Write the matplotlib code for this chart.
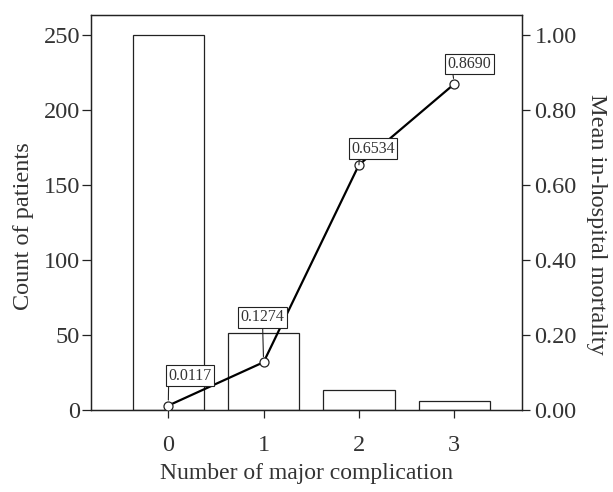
import matplotlib.pyplot as plt

plt.rcParams['font.family'] = ['Liberation Serif', 'DejaVu Serif']

# data
complications = [0, 1, 2, 3]
patient_counts = [250, 51, 13, 6]
mortality = [0.0117, 0.1274, 0.6534, 0.8690]
mortality_labels = ['0.0117', '0.1274', '0.6534', '0.8690']

ink = '#222222'
txt = '#333333'

fig = plt.figure(figsize=(6.13, 4.92), dpi=100)
ax = fig.add_axes([0.1485, 0.1667, 0.703, 0.8022])
ax2 = ax.twinx()

ax.bar(complications, patient_counts, width=0.75, facecolor='white',
       edgecolor=ink, linewidth=0.9)
ax.set_xlim(-0.81, 3.71)
ax.set_ylim(0, 263)
ax.set_yticks([0, 50, 100, 150, 200, 250])
ax.set_xticks(complications)

ax2.plot(complications, mortality, color='black', lw=1.6, marker='o',
         markersize=6.5, markerfacecolor='white', markeredgecolor=ink,
         markeredgewidth=0.9, zorder=3)
ax2.set_ylim(0, 1.052)
ax2.set_yticks([0, 0.2, 0.4, 0.6, 0.8, 1.0])
ax2.set_yticklabels(['0.00', '0.20', '0.40', '0.60', '0.80', '1.00'])

# label boxes: offset (pixels) of box centre and where the leader starts
offsets = [(22, 30), (-1, 45), (14, 16), (15, 20)]
rel = [(0.0, 0.0), (0.5, 0.0), (0.19, 0.0), (0.12, 0.0)]
for x, y, s, off, rp in zip(complications, mortality, mortality_labels, offsets, rel):
    ax2.annotate(s, xy=(x, y), xytext=off, textcoords='offset pixels',
                 ha='center', va='center', fontsize=11.5, color=txt,
                 bbox=dict(boxstyle='square,pad=0.15', fc='white', ec=ink, lw=0.8),
                 arrowprops=dict(arrowstyle='-', color=ink, lw=0.8,
                                 shrinkA=0, shrinkB=4, relpos=rp),
                 zorder=4)

for a in (ax, ax2):
    for sp in a.spines.values():
        sp.set_color(ink)
        sp.set_linewidth(0.9)

ax.tick_params(axis='y', direction='out', length=6.5, width=0.9, pad=1.5,
               labelsize=17.5, colors=ink, labelcolor=txt)
ax.tick_params(axis='x', direction='out', length=6, width=0.9, pad=12.3,
               labelsize=17.5, colors=ink, labelcolor=txt)
ax2.tick_params(axis='y', direction='out', length=6, width=0.9, pad=3,
                labelsize=17.5, colors=ink, labelcolor=txt)

ax.set_xlabel('Number of major complication', fontsize=17, color=txt, labelpad=4.5)
ax.set_ylabel('Count of patients', fontsize=17.5, color=txt, labelpad=7)
ax2.set_ylabel('Mean in-hospital mortality', fontsize=17.5, color=txt,
               rotation=270, va='bottom', labelpad=6.5)
ax.yaxis.label.set_y(0.467)
ax2.yaxis.label.set_y(0.47)

fig.savefig('out.png', dpi=100)
